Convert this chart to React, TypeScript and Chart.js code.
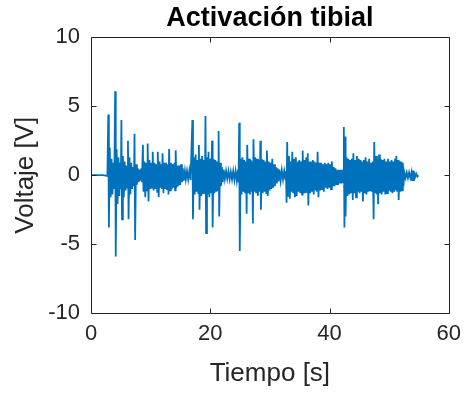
import React, { useEffect, useRef } from "react";
import { Chart, registerables } from "chart.js";

Chart.register(...registerables);

const FONT = "'Liberation Sans', Arial, Helvetica, sans-serif";
const TEXT = "#262626";
const LINE = "#0072BD";

const chartTitle = "Activación tibial";
const xTitle = "Tiempo [s]";
const yTitle = "Voltaje [V]";
const xTicks = [0, 20, 40, 60];
const yTicks = [-10, -5, 0, 5, 10];

// [time (s), voltage (V)]
const lead: [number, number][] = [[0, 0], [1.0, 0], [2.0, 0], [2.75, -0.05]];

const burst1: [number, number][] = [
  [2.9, 4.4], [3.0, -3.8], [3.15, 2.0], [3.3, -1.6], [3.45, 1.2], [3.6, -1.4], [3.75, 0.9], [3.9, -1.0],
  [4.05, 6.1], [4.15, -5.9], [4.3, 1.9], [4.45, -2.1], [4.6, 1.3], [4.75, -1.5], [4.9, 0.9], [5.0, -1.0],
  [5.1, 4.0], [5.2, -3.2], [5.35, 1.4], [5.5, -1.6], [5.65, 1.0], [5.8, -1.1], [5.95, 0.7], [6.1, -0.9],
  [6.2, 2.5], [6.3, -3.2], [6.45, 1.3], [6.6, -1.4], [6.75, 0.9], [6.9, -1.0], [7.05, 0.6], [7.2, -0.8],
  [7.3, 3.0], [7.4, -4.7], [7.55, 0.8], [7.7, -0.7], [7.85, 0.5], [8.0, -0.5], [8.15, 0.4], [8.3, -0.4],
  [8.45, 0.5], [8.55, -0.5],
];

const burst2: [number, number][] = [
  [8.7, 2.2], [8.8, -1.2], [8.95, 1.0], [9.1, -1.6], [9.25, 0.9], [9.4, -1.1], [9.5, 2.3], [9.65, -1.9],
  [9.8, 1.1], [9.95, -1.0], [10.1, 0.9], [10.25, -0.9], [10.35, 1.7], [10.5, -1.1], [10.65, 0.9], [10.8, -1.0],
  [10.95, 0.8], [11.1, -1.2], [11.2, 1.7], [11.35, -1.6], [11.5, 1.0], [11.65, -0.9], [11.8, 0.8], [11.9, -1.0],
  [12.0, 1.6], [12.15, -1.3], [12.3, 0.9], [12.45, -1.0], [12.6, 0.9], [12.75, -1.0], [12.9, 0.8], [13.0, -1.4],
  [13.1, 1.9], [13.25, -1.1], [13.4, 0.9], [13.55, -1.0], [13.7, 0.8], [13.85, -0.9], [14.0, 0.9], [14.1, -1.1],
  [14.2, 1.8], [14.35, -0.9], [14.5, 0.7], [14.65, -0.8], [14.8, 0.7], [14.95, -0.7], [15.1, 0.8], [15.25, -0.5],
  [15.4, 0.5], [15.55, -0.4],
];

const quiet1: [number, number][] = [
  [15.75, 0.3], [15.9, -0.3], [16.1, 0.3], [16.3, -0.3], [16.5, 0.35], [16.7, -0.35],
];

const burst3: [number, number][] = [
  [17.0, 4.0], [17.1, -3.2], [17.25, 1.3], [17.4, -1.4], [17.55, 1.5], [17.7, -1.2], [17.85, 1.1], [18.0, -1.3],
  [18.1, 2.2], [18.2, -2.5], [18.35, 1.2], [18.5, -1.5], [18.65, 1.4], [18.8, -1.3], [18.95, 1.1], [19.1, -1.2],
  [19.2, 4.3], [19.3, -4.2], [19.45, 1.3], [19.6, -1.4], [19.7, 1.7], [19.85, -1.6], [20.0, 1.2], [20.15, -1.3],
  [20.3, 2.5], [20.4, -3.8], [20.55, 1.2], [20.7, -1.3], [20.85, 1.1], [21.0, -1.2], [21.15, 1.0], [21.3, -1.1],
  [21.4, 3.2], [21.5, -3.0], [21.65, 0.9], [21.8, -0.8], [21.95, 0.6], [22.1, -0.5], [22.25, 0.4],
];

const quiet2: [number, number][] = [
  [22.45, -0.3], [22.65, 0.3], [22.85, -0.25], [23.05, 0.3], [23.25, -0.3], [23.45, 0.25], [23.65, -0.3],
  [23.85, 0.3], [24.05, -0.35], [24.25, 0.3], [24.45, -0.4], [24.65, 0.4], [24.75, -0.5],
];

const burst4: [number, number][] = [
  [24.85, 3.8], [24.95, -5.5], [25.1, 1.2], [25.25, -1.4], [25.4, 1.3], [25.55, -1.2], [25.7, 1.1], [25.85, -1.3],
  [26.0, 1.0], [26.1, -2.8], [26.2, 2.2], [26.35, -1.3], [26.5, 1.2], [26.65, -1.4], [26.8, 1.1], [26.95, -1.2],
  [27.05, 1.0], [27.15, -3.5], [27.25, 2.6], [27.4, -1.2], [27.55, 1.3], [27.7, -1.3], [27.85, 1.2], [28.0, -1.5],
  [28.15, 1.1], [28.3, -1.2], [28.4, 2.5], [28.5, -2.5], [28.65, 1.2], [28.8, -1.3], [28.95, 1.1], [29.1, -1.2],
  [29.25, 1.0], [29.4, -1.3], [29.5, 1.8], [29.65, -1.5], [29.8, 1.0], [29.95, -1.1], [30.1, 0.9], [30.25, -1.0],
  [30.4, 1.2], [30.55, -0.9], [30.7, 0.8], [30.85, -0.8], [31.0, 0.6], [31.15, -0.6], [31.3, 0.5], [31.45, -0.45],
];

const quiet3: [number, number][] = [
  [31.6, 0.4], [31.8, -0.4], [32.0, 0.35], [32.2, -0.3], [32.4, 0.3], [32.6, -0.3], [32.7, 0.3],
];

const burst5: [number, number][] = [
  [32.8, -2.0], [32.9, 2.4], [33.05, -1.5], [33.2, 1.4], [33.35, -1.7], [33.5, 1.0], [33.65, -1.2], [33.75, 1.7],
  [33.9, -1.3], [34.05, 1.2], [34.2, -1.6], [34.35, 1.3], [34.5, -1.5], [34.65, 1.0], [34.8, -1.2], [34.95, 1.1],
  [35.1, -1.3], [35.25, 1.0], [35.4, -1.4], [35.5, 1.8], [35.65, -1.3], [35.8, 1.1], [35.95, -1.3], [36.1, 1.3],
  [36.25, -1.2], [36.35, 1.6], [36.45, -2.2], [36.6, 1.0], [36.75, -1.3], [36.9, 1.0], [37.05, -1.2], [37.2, 1.1],
  [37.35, -1.4], [37.5, 1.0], [37.65, -1.1], [37.8, 0.9], [37.9, -1.2], [38.0, 1.7], [38.15, -1.6], [38.3, 0.9],
  [38.45, -1.1], [38.6, 0.9], [38.75, -1.0], [38.9, 0.8], [39.05, -1.2], [39.2, 0.9], [39.35, -0.9], [39.5, 0.8],
  [39.65, -1.0], [39.8, 0.9], [39.95, -0.9], [40.1, 0.8], [40.25, -1.0], [40.4, 1.0], [40.55, -0.8], [40.7, 0.6],
  [40.85, -0.8], [41.0, 0.5], [41.15, -0.7], [41.3, 0.4], [41.45, -0.7], [41.6, 0.4], [41.75, -0.6], [41.9, 0.4],
  [42.05, -0.6], [42.2, 0.4], [42.3, -0.5],
];

const burst6: [number, number][] = [
  [42.4, 3.5], [42.5, -3.8], [42.6, 2.8], [42.7, -3.0], [42.85, 1.3], [43.0, -1.5], [43.15, 1.2], [43.3, -1.4],
  [43.45, 1.1], [43.6, -1.3], [43.75, 1.2], [43.9, -1.8], [44.0, 1.6], [44.15, -1.3], [44.3, 1.1], [44.45, -1.6],
  [44.6, 1.4], [44.75, -1.2], [44.9, 1.2], [45.05, -1.3], [45.2, 1.1], [45.35, -1.2], [45.5, 1.0], [45.6, -1.9],
  [45.75, 1.1], [45.9, -1.3], [46.05, 1.3], [46.2, -1.4], [46.35, 1.0], [46.5, -1.2], [46.65, 1.2], [46.8, -1.1],
  [46.95, 0.9], [47.1, -1.2], [47.25, 1.0],
];

const burst7: [number, number][] = [
  [47.4, -3.2], [47.5, 2.4], [47.65, -1.3], [47.8, 1.4], [47.95, -1.4], [48.05, 1.2], [48.15, -2.1], [48.3, 1.5],
  [48.45, -1.3], [48.6, 1.2], [48.75, -1.4], [48.9, 1.1], [49.05, -1.2], [49.2, 1.2], [49.35, -1.4], [49.5, 1.0],
  [49.65, -1.3], [49.8, 1.2], [49.95, -1.1], [50.1, 1.0], [50.25, -1.2], [50.4, 1.1], [50.55, -1.3], [50.7, 1.0],
  [50.85, -1.2], [51.0, 1.2], [51.1, -1.1], [51.2, 1.4], [51.35, -1.2], [51.5, 1.1], [51.6, -1.8], [51.75, 1.0],
  [51.9, -1.2], [52.05, 1.0], [52.2, -1.1], [52.3, 0.9], [52.4, -0.8],
];

const tail: [number, number][] = [
  [52.55, 0.2], [52.75, -0.2], [52.95, 0.2], [53.15, -0.2], [53.35, 0.2], [53.55, -0.2], [53.75, 0.2],
  [53.85, -0.35], [53.95, 0.35], [54.05, -0.35], [54.15, 0.3], [54.35, -0.15], [54.55, 0.1], [54.75, -0.1],
  [54.9, 0],
];

const segments = [lead, burst1, burst2, quiet1, burst3, quiet2, burst4, quiet3, burst5, burst6, burst7, tail];

const boxPlugin = {
  id: "matlabBox",
  afterDatasetsDraw(chart: any) {
    const { ctx, chartArea: a, scales } = chart;
    const L = Math.round(a.left) + 0.5;
    const R = Math.round(a.right) + 0.5;
    const T = Math.round(a.top) + 0.5;
    const B = Math.round(a.bottom) + 0.5;
    const len = 5;
    ctx.save();
    ctx.strokeStyle = TEXT;
    ctx.lineWidth = 1;
    ctx.beginPath();
    ctx.rect(L, T, R - L, B - T);
    xTicks.forEach((v) => {
      const px = Math.round(scales.x.getPixelForValue(v)) + 0.5;
      ctx.moveTo(px, B);
      ctx.lineTo(px, B - len);
      ctx.moveTo(px, T);
      ctx.lineTo(px, T + len);
    });
    yTicks.forEach((v) => {
      const py = Math.round(scales.y.getPixelForValue(v)) + 0.5;
      ctx.moveTo(L, py);
      ctx.lineTo(L + len, py);
      ctx.moveTo(R, py);
      ctx.lineTo(R - len, py);
    });
    ctx.stroke();
    ctx.restore();
  },
};

export default function App() {
  const ref = useRef<HTMLCanvasElement | null>(null);

  useEffect(() => {
    if (!ref.current) return;
    const points = segments.flat().map(([x, y]) => ({ x, y }));
    const chart = new Chart(ref.current, {
      type: "line",
      data: {
        datasets: [
          {
            data: points,
            borderColor: LINE,
            borderWidth: 1.8,
            pointRadius: 0,
            tension: 0,
            fill: false,
          },
        ],
      },
      options: {
        animation: false,
        responsive: false,
        devicePixelRatio: 1,
        layout: { padding: { left: 0, right: 17, top: 0, bottom: 0 } },
        plugins: {
          legend: { display: false },
          tooltip: { enabled: false },
          title: {
            display: true,
            fullSize: false,
            text: chartTitle,
            color: "#000",
            font: { family: FONT, size: 27, weight: "bold" },
            padding: { top: 2, bottom: 3 },
          },
        },
        scales: {
          x: {
            type: "linear",
            min: 0,
            max: 60,
            afterBuildTicks: (s: any) => {
              s.ticks = xTicks.map((v) => ({ value: v }));
            },
            afterFit: (s: any) => {
              s.height = 83;
            },
            ticks: { color: TEXT, font: { family: FONT, size: 22 }, padding: 8, maxRotation: 0 },
            grid: { display: false, drawTicks: false },
            border: { display: false },
            title: {
              display: true,
              text: xTitle,
              color: TEXT,
              font: { family: FONT, size: 26 },
              padding: { top: 0, bottom: 7 },
            },
          },
          y: {
            type: "linear",
            min: -10,
            max: 10,
            afterBuildTicks: (s: any) => {
              s.ticks = yTicks.map((v) => ({ value: v }));
            },
            afterFit: (s: any) => {
              s.width = 91;
            },
            ticks: { color: TEXT, font: { family: FONT, size: 22 }, padding: 11 },
            grid: { display: false, drawTicks: false },
            border: { display: false },
            title: {
              display: true,
              text: yTitle,
              color: TEXT,
              font: { family: FONT, size: 26 },
              padding: { top: 10, bottom: 0 },
            },
          },
        },
      },
      plugins: [boxPlugin],
    } as any);
    return () => chart.destroy();
  }, []);

  return (
    <div style={{ position: "fixed", left: 0, top: 0, width: 469, height: 396, background: "#fff" }}>
      <canvas ref={ref} width={469} height={396} style={{ display: "block" }} />
    </div>
  );
}
